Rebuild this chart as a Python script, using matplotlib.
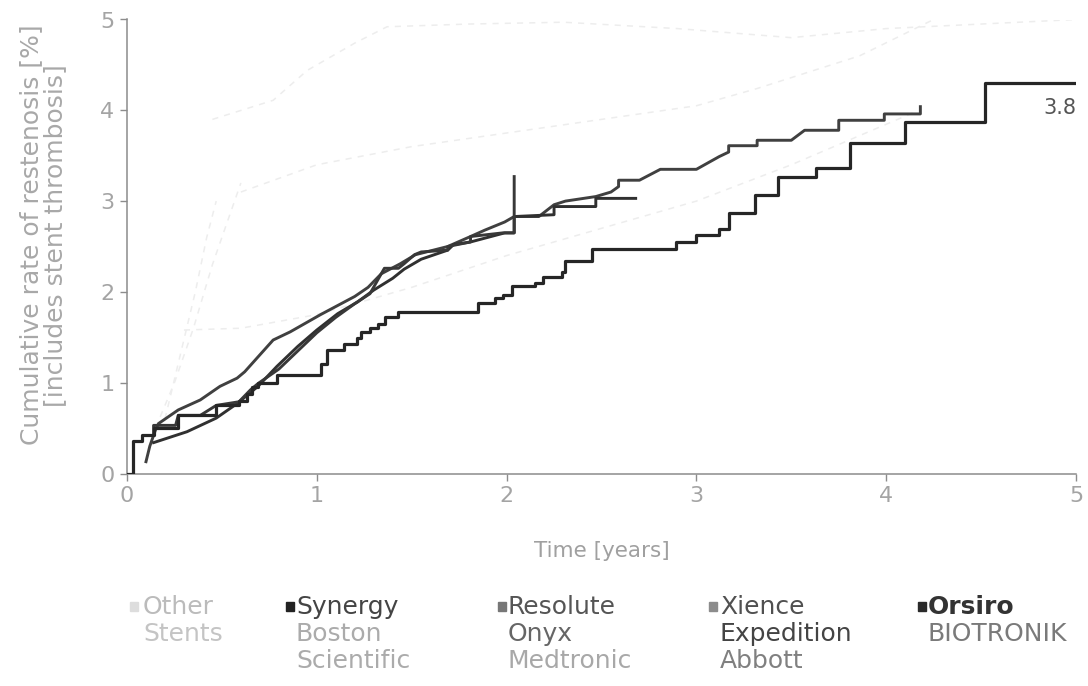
import matplotlib
matplotlib.use("Agg")
import matplotlib.pyplot as plt
from matplotlib.patches import Rectangle

plt.rcParams['font.family'] = ['DejaVu Sans']

# ---------------- data ----------------
# Orsiro BIOTRONIK (step curve, event times / levels)
orsiro_x = [0, 0.03, 0.08, 0.14, 0.27, 0.47, 0.59, 0.63, 0.66, 0.69, 0.79, 1.02, 1.056,
            1.145, 1.21, 1.233, 1.28, 1.32, 1.36, 1.43, 1.85, 1.94, 1.98, 2.03, 2.15,
            2.19, 2.29, 2.31, 2.45, 2.89, 3.0, 3.12, 3.17, 3.31, 3.43, 3.63, 3.81,
            4.10, 4.52, 5.0]
orsiro_y = [0, 0.36, 0.42, 0.50, 0.64, 0.75, 0.80, 0.88, 0.95, 1.0, 1.09, 1.21, 1.36,
            1.43, 1.49, 1.56, 1.60, 1.65, 1.72, 1.78, 1.88, 1.93, 1.97, 2.06, 2.10,
            2.16, 2.22, 2.34, 2.47, 2.55, 2.63, 2.69, 2.87, 3.07, 3.27, 3.36, 3.64,
            3.87, 4.30, 4.30]

# Xience Expedition Abbott
xience_x = [0.10, 0.12, 0.15, 0.166, 0.27, 0.386, 0.49, 0.58, 0.62, 0.77, 0.86, 1.02,
            1.2, 1.27, 1.34, 1.44, 1.52, 1.69, 1.81, 1.885, 1.99, 2.04, 2.17, 2.25,
            2.31, 2.47, 2.55, 2.59, 2.59, 2.70, 2.81, 3.0, 3.12, 3.17, 3.17, 3.32,
            3.32, 3.50, 3.57, 3.75, 3.75, 3.99, 3.99, 4.18, 4.18]
xience_y = [0.13, 0.30, 0.48, 0.55, 0.70, 0.81, 0.96, 1.05, 1.12, 1.47, 1.56, 1.75,
            1.95, 2.05, 2.20, 2.31, 2.41, 2.50, 2.61, 2.68, 2.77, 2.83, 2.83, 2.96,
            3.00, 3.05, 3.10, 3.16, 3.23, 3.23, 3.35, 3.35, 3.49, 3.54, 3.61, 3.61,
            3.67, 3.67, 3.78, 3.78, 3.89, 3.89, 3.96, 3.96, 4.04]

# Synergy Boston Scientific
synergy_x = [0.14, 0.316, 0.47, 0.58, 0.69, 0.79, 0.90, 1.0, 1.11, 1.215, 1.30, 1.40,
             1.46, 1.55, 1.69, 1.72, 1.81, 1.99, 2.04, 2.04, 2.25, 2.25, 2.47, 2.47, 2.68]
synergy_y = [0.34, 0.46, 0.61, 0.77, 0.96, 1.18, 1.40, 1.58, 1.76, 1.89, 2.02, 2.15,
             2.25, 2.36, 2.46, 2.52, 2.55, 2.65, 2.65, 2.83, 2.85, 2.94, 2.94, 3.03, 3.03]

# Resolute Onyx Medtronic
onyx_x = [0.14, 0.14, 0.256, 0.27, 0.386, 0.47, 0.59, 0.65, 0.69, 0.80, 0.90, 1.0, 1.1,
          1.2, 1.28, 1.356, 1.43, 1.46, 1.515, 1.55, 1.69, 1.69, 1.81, 1.81, 1.98,
          1.98, 2.04, 2.04]
onyx_y = [0.42, 0.53, 0.53, 0.64, 0.64, 0.75, 0.79, 0.92, 0.99, 1.15, 1.35, 1.55, 1.72,
          1.87, 1.98, 2.26, 2.26, 2.31, 2.41, 2.44, 2.46, 2.50, 2.55, 2.61, 2.65,
          2.65, 2.65, 3.27]

# Other stents (faint background curves)
other1_x = [0.15, 0.25, 0.35, 0.45, 0.55, 0.60]
other1_y = [0.50, 1.00, 1.60, 2.30, 2.90, 3.20]
other2_x = [0.20, 0.28, 0.36, 0.42, 0.47]
other2_y = [0.60, 1.30, 2.00, 2.60, 3.00]
other3_x = [0.45, 0.77, 0.95, 1.20, 1.37, 1.80, 2.30, 2.90, 3.50, 4.00, 4.50, 5.00]
other3_y = [3.90, 4.11, 4.44, 4.74, 4.92, 4.95, 4.97, 4.90, 4.80, 4.90, 4.95, 5.00]
other4_x = [0.60, 1.00, 1.50, 2.00, 2.50, 3.00, 3.32, 3.86, 4.25]
other4_y = [3.10, 3.40, 3.60, 3.75, 3.90, 4.05, 4.24, 4.60, 5.00]
other5_x = [0.30, 0.60, 1.00, 1.50, 2.00, 2.50, 3.00, 3.50, 4.15]
other5_y = [1.58, 1.60, 1.75, 2.05, 2.40, 2.70, 3.00, 3.40, 3.98]

end_label = "3.8"
x_ticks = [0, 1, 2, 3, 4, 5]
y_ticks = [0, 1, 2, 3, 4, 5]

legend_titles = ["Other", "Synergy", "Resolute", "Xience", "Orsiro"]
legend_subs = [["Stents"], ["Boston", "Scientific"], ["Onyx", "Medtronic"],
               ["Expedition", "Abbott"], ["BIOTRONIK"]]
legend_square_colors = ["#dddddd", "#222222", "#777777", "#8c8c8c", "#2a2a2a"]
legend_title_colors = ["#bbbbbb", "#444444", "#555555", "#505050", "#333333"]
legend_sub_colors = [["#c4c4c4"], ["#ababab", "#ababab"], ["#666666", "#a8a8a8"],
                     ["#444444", "#808080"], ["#7a7a7a"]]

# ---------------- figure ----------------
W, H = 1088, 686
fig = plt.figure(figsize=(W / 100, H / 100), dpi=100)
ax = fig.add_axes([127 / W, (H - 473.5) / H, (1076 - 127) / W, (473.5 - 19.5) / H])

faint = dict(color="#ededed", lw=1.1, zorder=1)
for ox, oy in [(other1_x, other1_y), (other2_x, other2_y), (other3_x, other3_y),
               (other4_x, other4_y), (other5_x, other5_y)]:
    ax.plot(ox, oy, linestyle=(0, (4, 4)), **faint)

ax.plot(xience_x, xience_y, color="#404040", lw=2.1, zorder=3)
ax.plot(synergy_x, synergy_y, color="#303030", lw=2.1, zorder=3)
ax.plot(onyx_x, onyx_y, color="#383838", lw=2.1, zorder=3)
ax.step(orsiro_x, orsiro_y, where="post", color="#262626", lw=2.3, zorder=4)

ax.text(5.0, 4.02, end_label, ha="right", va="center", fontsize=15, color="#555555")

ax.set_xlim(0, 5)
ax.set_ylim(0, 5)
ax.set_xticks(x_ticks)
ax.set_yticks(y_ticks)
for s in ["top", "right"]:
    ax.spines[s].set_visible(False)
for s in ["left", "bottom"]:
    ax.spines[s].set_color("#8c8c8c")
    ax.spines[s].set_linewidth(1.1)
ax.tick_params(axis="both", direction="out", length=5, width=1, color="#8c8c8c",
               labelcolor="#a4a4a4", labelsize=16, pad=4)

ax.set_xlabel("Time [years]", fontsize=15.5, color="#a0a0a0", labelpad=25)
ax.set_ylabel("Cumulative rate of restenosis [%]\n[includes stent thrombosis]",
              fontsize=18, color="#a8a8a8", linespacing=1.0)
ax.yaxis.set_label_coords(-0.063, 0.525)

# ---------------- legend ----------------
sq_x = [130, 286, 498, 709, 918]
txt_x = [143, 296, 508, 720, 928]
row_y = [607, 634, 661]
for i, title in enumerate(legend_titles):
    fig.patches.append(Rectangle((sq_x[i] / W, (H - 611) / H), 8 / W, 9 / H,
                                 transform=fig.transFigure, color=legend_square_colors[i],
                                 figure=fig))
    fig.text(txt_x[i] / W, (H - row_y[0]) / H, title, ha="left", va="center",
             fontsize=18, color=legend_title_colors[i],
             fontweight="semibold" if title == "Orsiro" else "normal")
    for j, s in enumerate(legend_subs[i]):
        fig.text(txt_x[i] / W, (H - row_y[j + 1]) / H, s, ha="left", va="center",
                 fontsize=18, color=legend_sub_colors[i][j])

fig.savefig("out.png", dpi=100, facecolor="white")
